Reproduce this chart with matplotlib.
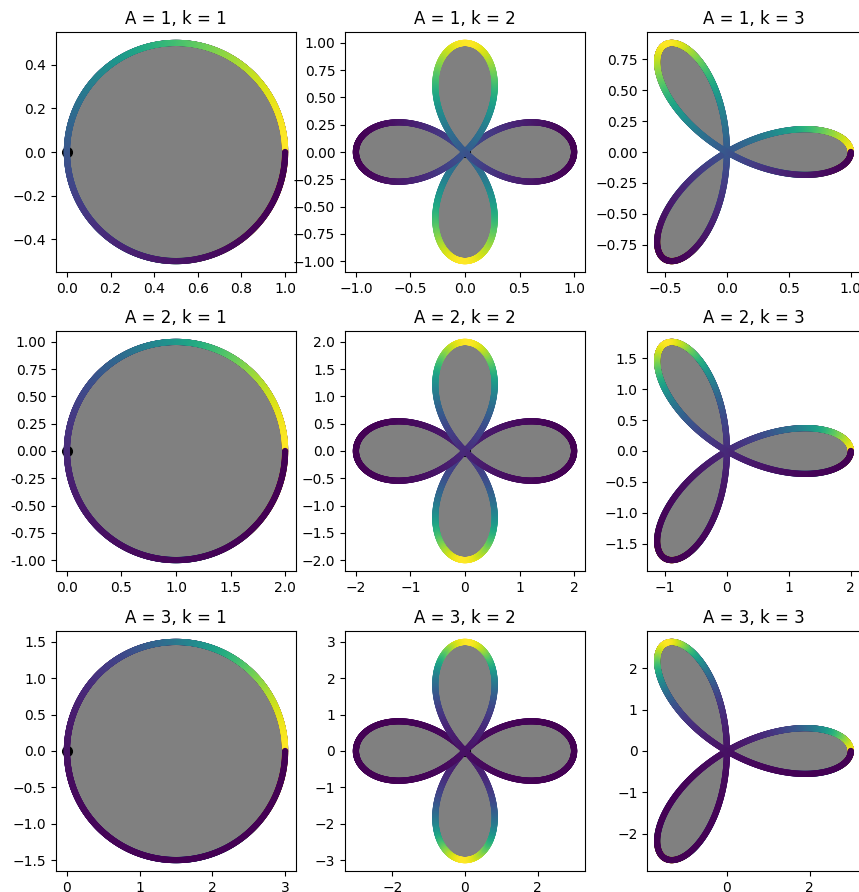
import numpy as np
import matplotlib
matplotlib.use('Agg')
import matplotlib.pyplot as plt
from matplotlib.ticker import FuncFormatter, MultipleLocator

# rose curves r = A*cos(k*theta)
amplitudes = [1, 2, 3]
petal_ks = [1, 2, 3]
theta = np.linspace(0, 2 * np.pi, 2000)

# tick spacing, rows = A, cols = k
x_steps = [[0.2, 0.5, 0.5],
           [0.5, 1.0, 1.0],
           [1.0, 2.0, 2.0]]
y_steps = [[0.2, 0.25, 0.25],
           [0.25, 0.5, 0.5],
           [0.5, 1.0, 1.0]]

W, H = 859, 892
col_left = [56, 345, 634]
row_top = [32, 331, 631]
box = 240

fig = plt.figure(figsize=(W / 100, H / 100), dpi=100)

for i, A in enumerate(amplitudes):
    for j, k in enumerate(petal_ks):
        ax = fig.add_axes([col_left[j] / W, 1 - (row_top[i] + box) / H, box / W, box / H])
        r = A * np.cos(k * theta)
        x = r * np.cos(theta)
        y = r * np.sin(theta)

        ax.fill(x, y, color='gray', zorder=1)
        ax.plot(0, 0, 'ko', markersize=7, zorder=2)
        ax.scatter(x, y, c=np.exp(-r), cmap='viridis', s=20, linewidths=0, zorder=3)

        ax.set_aspect('equal')
        ax.set_title(f"A = {A}, k = {k}")
        ax.xaxis.set_major_locator(MultipleLocator(x_steps[i][j]))
        ax.yaxis.set_major_locator(MultipleLocator(y_steps[i][j]))

        if A == 2 and k == 1:
            # this panel shows plain hyphens in the original
            ax.yaxis.set_major_formatter(FuncFormatter(lambda v, p: f"{v:.2f}"))

fig.savefig('out.png', dpi=100)
